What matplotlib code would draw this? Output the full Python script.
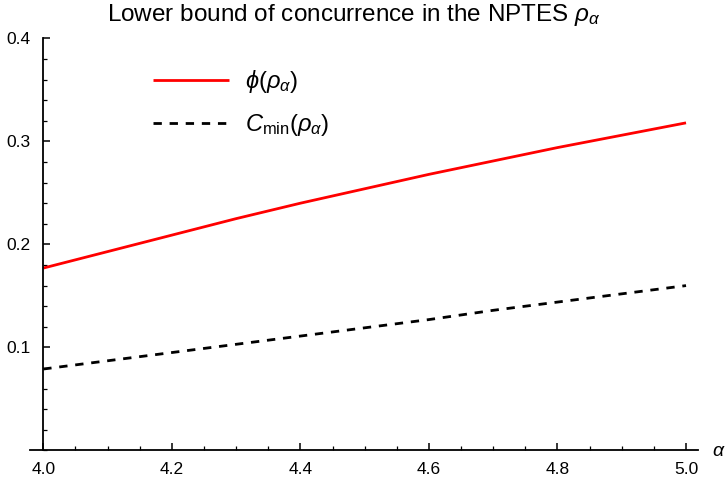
import matplotlib
matplotlib.use("Agg")
import matplotlib.pyplot as plt
from matplotlib.ticker import MultipleLocator

plt.rcParams['font.family'] = ['Liberation Sans', 'DejaVu Sans']
plt.rcParams['mathtext.fontset'] = 'custom'
plt.rcParams['mathtext.rm'] = 'Liberation Sans'
plt.rcParams['mathtext.it'] = 'Liberation Sans:italic'
plt.rcParams['mathtext.bf'] = 'Liberation Sans:bold'

alpha = [4.0, 4.1, 4.2, 4.3, 4.4, 4.5, 4.6, 4.7, 4.8, 4.9, 5.0]
phi = [0.177, 0.193, 0.209, 0.225, 0.240, 0.254, 0.268, 0.281, 0.294, 0.306, 0.318]
cmin = [0.079, 0.087, 0.095, 0.103, 0.111, 0.119, 0.127, 0.136, 0.144, 0.152, 0.160]

W, H = 726, 484
fig = plt.figure(figsize=(W / 100, H / 100), dpi=100)
ax = fig.add_axes([30.4 / W, (H - 450.4) / H, 667.2 / W, 412 / H])
ax.set_xlim(3.98, 5.018)
ax.set_ylim(0, 0.4)

ax.plot(alpha, phi, color='#ff0000', lw=2.0, label=r'$\phi(\rho_\alpha)$', solid_capstyle='butt')
ax.plot(alpha, cmin, color='black', lw=2.0, dashes=(3.0, 2.8), label=r'$C_{\mathrm{min}}(\rho_\alpha)$')

for s in ['top', 'right']:
    ax.spines[s].set_visible(False)
ax.spines['left'].set_position(('data', 4.0))
ax.spines['left'].set_bounds(0, 0.4)
ax.spines['bottom'].set_position(('data', 0))
ax.spines['left'].set_linewidth(1.3)
ax.spines['bottom'].set_linewidth(1.3)

ax.xaxis.set_major_locator(MultipleLocator(0.2))
ax.xaxis.set_minor_locator(MultipleLocator(0.05))
ax.yaxis.set_major_locator(MultipleLocator(0.1))
ax.yaxis.set_minor_locator(MultipleLocator(0.02))
ax.set_xticks([4.0, 4.2, 4.4, 4.6, 4.8, 5.0])
ax.set_xticklabels(['4.0', '4.2', '4.4', '4.6', '4.8', '5.0'])
ax.set_yticks([0.1, 0.2, 0.3, 0.4])
ax.set_yticklabels(['0.1', '0.2', '0.3', '0.4'])
ax.tick_params(which='major', direction='in', length=5, width=1.1, labelsize=12.5)
ax.tick_params(axis='y', which='major', pad=9)
ax.tick_params(axis='x', which='major', pad=8)
ax.tick_params(which='minor', direction='in', length=3, width=0.9)

fig.text(0.488, (H - 15) / H, r'Lower bound of concurrence in the NPTES $\rho_\alpha$',
         fontsize=17.5, ha='center', va='center')
fig.text(712 / W, (H - 452) / H, r'$\alpha$', fontsize=14, ha='left', va='center')

ax.legend(loc='upper left', bbox_to_anchor=(132 / W, (H - 47) / H), bbox_transform=fig.transFigure,
          frameon=False, fontsize=17, handlelength=3.2, handletextpad=0.7, labelspacing=0.72)

fig.savefig('out.png', dpi=100)
